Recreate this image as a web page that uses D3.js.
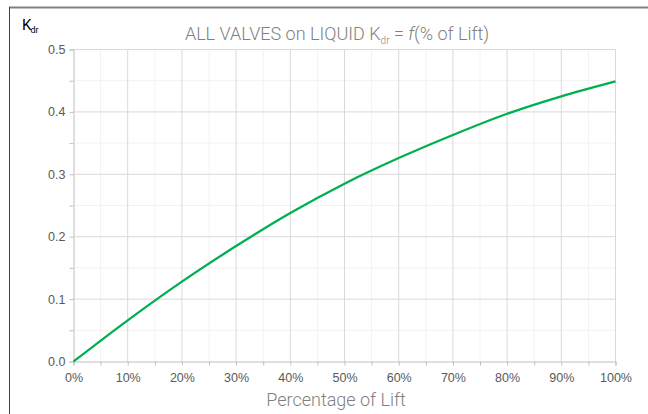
<!DOCTYPE html>
<html><head><meta charset="utf-8">
<script src="https://cdn.jsdelivr.net/npm/d3@7"></script>
<style>
html,body{margin:0;padding:0;background:#fff;}
svg{display:block;}
</style></head>
<body>
<script>
// Data
const liftPct = [0, 10, 20, 30, 40, 50, 60, 70, 80, 90, 100];
const kdr = [0, 0.066, 0.128, 0.185, 0.238, 0.285, 0.326, 0.363, 0.397, 0.425, 0.449];
const xTicks = [0, 10, 20, 30, 40, 50, 60, 70, 80, 90, 100];
const yTicks = [0, 0.1, 0.2, 0.3, 0.4, 0.5];
const xMinor = d3.range(5, 100, 10);
const yMinor = [0.05, 0.15, 0.25, 0.35, 0.45];

const W = 648, H = 414;
const svg = d3.select("body").append("svg").attr("width", W).attr("height", H);

const x = d3.scaleLinear().domain([0, 100]).range([73.5, 615.5]);
const y = d3.scaleLinear().domain([0, 0.5]).range([361.5, 49.5]);

// frame
svg.append("line").attr("x1", 9).attr("x2", W).attr("y1", 7.5).attr("y2", 7.5)
  .attr("stroke", "#808080").attr("stroke-width", 2);
svg.append("line").attr("x1", 9.5).attr("x2", 9.5).attr("y1", 7).attr("y2", H)
  .attr("stroke", "#404040").attr("stroke-width", 1);

const g = svg.append("g");
// minor grid
g.selectAll(".vminor").data(xMinor).join("line")
  .attr("x1", d => x(d)).attr("x2", d => x(d)).attr("y1", y(0)).attr("y2", y(0.5))
  .attr("stroke", "#f2f2f2").attr("stroke-width", 1);
g.selectAll(".hminor").data(yMinor).join("line")
  .attr("x1", x(0)).attr("x2", x(100)).attr("y1", d => y(d)).attr("y2", d => y(d))
  .attr("stroke", "#f2f2f2").attr("stroke-width", 1);
// major grid
g.selectAll(".vmajor").data(xTicks.slice(1)).join("line")
  .attr("x1", d => x(d)).attr("x2", d => x(d)).attr("y1", y(0)).attr("y2", y(0.5))
  .attr("stroke", "#d9d9d9").attr("stroke-width", 1);
g.selectAll(".hmajor").data(yTicks.slice(1)).join("line")
  .attr("x1", x(0)).attr("x2", x(100)).attr("y1", d => y(d)).attr("y2", d => y(d))
  .attr("stroke", "#d9d9d9").attr("stroke-width", 1);

// axes
const xAxis = d3.axisBottom(x).tickValues(xTicks.concat(xMinor)).tickSize(4)
  .tickFormat(d => xTicks.includes(d) ? d + "%" : "");
const yAxis = d3.axisLeft(y).tickValues(yTicks.concat(yMinor)).tickSize(4)
  .tickFormat(d => yTicks.some(t => Math.abs(t - d) < 1e-9) ? d3.format(".1f")(d) : "");

const gx = svg.append("g").attr("transform", `translate(0,${y(0)})`).call(xAxis);
const gy = svg.append("g").attr("transform", `translate(${x(0)},0)`).call(yAxis);
[gx, gy].forEach(a => {
  a.select(".domain").attr("stroke", "#bfbfbf");
  a.selectAll(".tick line").attr("stroke", "#bfbfbf");
  a.selectAll(".tick text").attr("fill", "#595959")
    .style("font-family", "'Liberation Sans', Arial, sans-serif").style("font-size", "12.5px");
});
gx.selectAll(".tick text").attr("dy", "1.1em");
gy.selectAll(".tick text").attr("x", -8);

// line
const line = d3.line().x((d, i) => x(liftPct[i])).y(d => y(d)).curve(d3.curveMonotoneX);
svg.append("path").datum(kdr).attr("d", line)
  .attr("fill", "none").attr("stroke", "#00b050").attr("stroke-width", 2.25);

// title
const title = svg.append("text").attr("x", 337).attr("y", 40).attr("text-anchor", "middle")
  .attr("fill", "#7f7f7f")
  .style("font-family", "Roboto, sans-serif").style("font-weight", "300").style("font-size", "18px");
title.append("tspan").text("ALL VALVES on LIQUID K");
title.append("tspan").attr("dy", 4).style("font-size", "10px").text("dr");
title.append("tspan").attr("dy", -4).text(" = ");
title.append("tspan").style("font-style", "italic").text("f");
title.append("tspan").text("(% of Lift)");

// y label
const yl = svg.append("text").attr("x", 22).attr("y", 30).attr("fill", "#000")
  .style("font-family", "Roboto, sans-serif").style("font-size", "15px");
yl.append("tspan").text("K");
yl.append("tspan").attr("dy", 3).attr("dx", -1).style("font-size", "9px").text("dr");

// x label
svg.append("text").attr("x", 336).attr("y", 406).attr("text-anchor", "middle")
  .attr("fill", "#7f7f7f")
  .style("font-family", "Roboto, sans-serif").style("font-weight", "300").style("font-size", "18px")
  .text("Percentage of Lift");
</script>
</body></html>
